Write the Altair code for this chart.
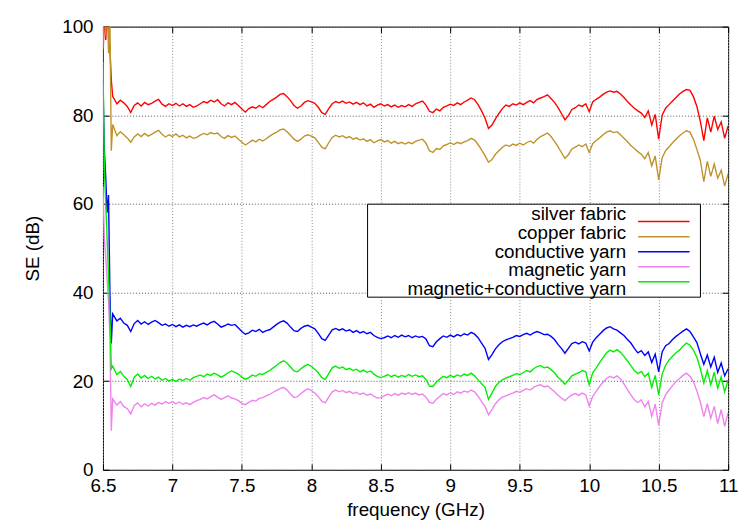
import numpy as np
import pandas as pd
import altair as alt

SERIES = ["silver fabric", "copper fabric", "conductive yarn", "magnetic yarn",
          "magnetic+conductive yarn"]
COLORS = ["#ff0000", "#c0922a", "#0000ff", "#ee82ee", "#00ee00"]

X_TICKS = [6.5, 7, 7.5, 8, 8.5, 9, 9.5, 10, 10.5, 11]
Y_TICKS = [0, 20, 40, 60, 80, 100]

# dense sampling of the start-up transient (GHz)
FREQ_START = [6.50, 6.51, 6.52, 6.53, 6.54, 6.55, 6.56, 6.57]
# regular sampling afterwards: 6.600 ... 11.000 every 0.025 GHz
FREQ_REG = list(np.round(6.6 + 0.025 * np.arange(177), 3))

silver = [92, 104, 97, 103, 99, 95, 88, 84.3,
    82.6, 83.4, 82.8, 82.0, 80.6, 82.2, 82.8, 82.1,
    82.9, 82.4, 82.7, 83.2, 83.6, 82.5, 82.0, 82.6,
    82.2, 82.7, 82.1, 82.6, 82.0, 82.4, 81.8, 82.1,
    82.6, 83.1, 82.8, 83.4, 83.0, 83.5, 82.6, 82.1,
    82.8, 82.4, 82.9, 82.2, 81.4, 80.7, 81.5, 81.9,
    81.6, 82.2, 81.7, 82.4, 83.1, 83.6, 84.1, 84.7,
    84.9, 84.2, 83.3, 82.2, 81.6, 82.1, 82.9, 83.3,
    83.0, 82.7, 81.8, 80.6, 80.2, 81.5, 82.6, 83.1,
    82.8, 83.2, 82.7, 83.0, 82.5, 82.9, 82.4, 82.8,
    82.1, 82.5, 81.8, 82.3, 82.6, 82.1, 82.4, 81.9,
    82.3, 81.8, 82.2, 81.9, 82.4, 82.0, 82.6, 82.9,
    83.2, 82.3, 80.9, 80.6, 81.4, 81.0, 81.8, 82.1,
    82.5, 82.2, 82.8, 82.4, 83.0, 83.4, 83.9, 83.5,
    82.4, 81.0, 79.4, 77.0, 77.8, 79.2, 80.4, 81.5,
    82.3, 82.0, 82.6, 82.3, 82.8, 82.4, 82.9, 83.3,
    82.8, 83.6, 83.9, 84.2, 84.6, 83.8, 82.9, 81.8,
    80.4, 79.0, 79.9, 81.3, 81.7, 82.3, 82.0, 82.6,
    80.8, 83.0, 83.6, 84.1, 84.7, 85.2, 85.5, 85.2,
    85.4, 84.8, 84.0, 83.1, 82.3, 81.6, 81.0, 80.5,
    79.5, 81.0, 77.8, 80.2, 74.6, 80.0, 81.6, 82.4,
    83.2, 84.0, 84.8, 85.4, 85.8, 85.6, 84.2, 82.0,
    78.6, 74.3, 79.4, 76.2, 79.8, 76.8, 78.5, 74.8,
    77.6]

copper = [95, 106, 98, 108, 94, 102, 72, 77.9,
    75.4, 76.3, 75.6, 74.9, 73.9, 75.1, 75.8, 75.2,
    75.9, 75.3, 75.7, 76.2, 76.6, 75.7, 75.1, 75.6,
    75.2, 75.8, 75.1, 75.5, 74.9, 75.3, 74.8, 75.0,
    75.5, 75.9, 75.6, 76.1, 75.8, 76.0, 75.2, 74.8,
    75.4, 75.0, 75.3, 74.6, 73.9, 73.3, 73.8, 74.4,
    74.0, 74.6, 74.2, 74.7, 75.3, 75.8, 76.2, 76.7,
    76.9, 76.3, 75.5, 74.6, 74.1, 74.6, 75.3, 75.6,
    75.3, 74.9, 73.9, 72.8, 72.4, 73.8, 75.0, 75.5,
    75.1, 75.4, 74.9, 75.2, 74.6, 74.9, 74.4, 74.7,
    74.1, 74.5, 73.8, 74.2, 74.5, 74.0, 74.3, 73.7,
    74.1, 73.6, 73.9, 73.5, 73.9, 73.6, 74.1, 74.4,
    74.6, 73.7, 72.0, 71.6, 72.5, 72.3, 73.1, 73.4,
    73.8, 73.4, 73.9, 73.6, 74.0, 74.3, 74.8, 74.4,
    73.4, 72.2, 70.9, 69.4, 70.0, 71.2, 72.0, 72.8,
    73.3, 73.0, 73.5, 73.2, 73.7, 73.3, 73.8, 74.2,
    73.7, 74.6, 75.2, 75.6, 76.0, 75.2, 74.1, 72.9,
    71.6, 70.3, 71.1, 72.4, 72.8, 73.3, 72.9, 73.5,
    71.6, 73.6, 74.3, 74.9, 75.6, 76.2, 76.5, 76.1,
    76.3, 75.6, 74.8, 74.0, 73.2, 72.5, 71.8, 71.2,
    70.2, 71.6, 68.6, 70.8, 65.4, 70.4, 72.0, 72.9,
    73.8, 74.6, 75.4, 76.0, 76.5, 76.2, 74.6, 72.3,
    69.8, 65.0, 69.6, 66.2, 69.0, 65.8, 67.6, 64.0,
    66.8]

cond_yarn = [88, 72, 66, 58, 62, 40, 28.5, 35.2,
    33.6, 34.2, 33.1, 32.6, 31.2, 33.0, 33.7, 32.9,
    33.4, 32.8, 33.3, 33.7, 33.2, 32.6, 32.9, 32.4,
    32.8, 32.3, 32.7, 32.2, 32.6, 32.3, 32.7, 32.4,
    32.8, 33.1, 32.7, 33.2, 33.5, 32.9, 32.2, 32.5,
    32.9, 32.6, 32.8, 32.0, 31.2, 30.6, 30.9, 31.5,
    31.2, 31.7, 31.0, 31.4, 31.6, 32.2, 32.8, 33.3,
    33.6, 33.1, 32.2, 31.4, 31.2, 31.9, 32.4, 32.6,
    32.2, 31.8, 30.8, 29.6, 29.2, 30.4, 31.6, 31.9,
    31.5, 31.8, 31.3, 31.6, 31.0, 31.4, 30.9, 31.2,
    30.7, 31.0, 30.3, 29.9, 29.6, 29.8, 30.2, 29.8,
    30.3, 29.9, 30.4, 30.0, 30.3, 29.8, 30.2, 29.9,
    30.1, 29.5, 28.0, 27.8, 28.9, 29.6, 30.2, 29.9,
    30.4, 30.0, 30.5, 30.2, 30.7, 30.4, 31.0, 30.6,
    29.8, 28.6, 27.4, 24.9, 26.0, 27.3, 28.2, 28.9,
    29.3, 29.6, 29.9, 30.3, 30.1, 30.5, 30.8, 30.4,
    30.9, 31.2, 30.9, 30.5, 30.6, 30.1, 29.4, 28.3,
    27.4, 26.3, 27.4, 28.5, 28.8, 28.4, 28.9, 28.6,
    26.8, 28.8, 29.8, 30.6, 31.4, 32.0, 32.3, 31.8,
    31.5, 30.9, 30.3, 29.4, 28.6, 27.4, 26.4, 26.9,
    25.8, 26.6, 24.2, 26.1, 22.1, 26.6, 28.0, 28.5,
    29.4, 30.1, 30.7, 31.3, 31.8, 31.2, 30.0, 28.7,
    26.2, 23.8, 25.9, 23.2, 25.4, 22.0, 24.1, 21.2,
    22.8]

mag_yarn = [64, 52, 48, 43, 38, 30, 8.8, 16.0,
    14.6, 15.4, 14.3, 13.8, 12.6, 14.5, 15.1, 14.2,
    14.9, 14.4, 15.0, 14.6, 15.2, 14.8, 15.4, 15.0,
    15.4, 14.9, 15.3, 14.8, 15.1, 14.7, 15.2, 15.6,
    15.9, 16.3, 16.0, 16.5, 16.9, 16.4, 15.9, 16.3,
    16.7, 16.2, 16.0, 15.6, 15.0, 14.7, 15.2, 15.7,
    15.5, 16.1, 16.3, 16.7, 17.0, 17.5, 17.9, 18.3,
    18.6, 18.0, 17.1, 16.3, 16.5, 17.2, 17.8, 18.3,
    17.9, 17.3, 16.5, 15.5, 15.1, 16.4, 17.6, 18.0,
    17.6, 17.9, 17.4, 17.7, 17.2, 17.5, 17.0, 17.3,
    16.8, 17.1, 16.6, 16.2, 16.3, 16.7, 17.1, 16.7,
    17.2, 16.8, 17.3, 17.0, 17.4, 17.0, 17.3, 16.9,
    17.1, 16.4, 15.2, 15.0, 15.9, 16.6, 17.2, 16.9,
    17.4, 17.0, 17.6, 17.3, 17.8, 17.5, 18.0, 17.6,
    16.6, 15.4, 14.3, 12.4, 13.6, 14.9, 15.8, 16.4,
    16.7, 17.0, 17.3, 17.7, 17.5, 17.9, 18.3, 18.0,
    18.6, 19.0, 19.2, 18.7, 18.9, 18.3, 17.6, 16.8,
    16.2, 15.6, 16.3, 16.9, 17.2, 16.8, 17.3, 16.9,
    14.4, 16.6, 17.7, 18.8, 19.8, 20.6, 21.1, 20.7,
    21.2, 20.5, 19.4, 18.1, 16.9, 15.8, 15.2, 15.8,
    14.2, 15.4, 12.1, 14.8, 10.0, 15.1, 16.9, 18.0,
    19.0, 19.9, 20.6, 21.3, 21.8, 21.1, 19.9, 17.8,
    15.3, 12.0, 14.9, 11.6, 14.3, 10.4, 13.6, 9.8,
    12.9]

mag_cond_yarn = [92, 68, 60, 52, 44, 35, 22.8, 23.4,
    21.5, 22.2, 21.1, 20.4, 18.8, 20.9, 21.6, 20.7,
    21.3, 20.6, 21.1, 20.5, 20.9, 20.2, 20.6, 20.0,
    20.4, 19.9, 20.5, 20.1, 20.6, 20.2, 20.8, 21.1,
    21.4, 21.0, 21.6, 21.3, 21.8, 21.4, 20.9, 21.3,
    21.9, 22.3, 22.0, 21.6, 20.9, 20.4, 20.8, 21.4,
    21.1, 21.7, 21.5, 22.0, 22.4, 23.0, 23.6, 24.2,
    24.6, 24.1, 23.2, 22.3, 22.1, 22.8, 23.4, 23.8,
    23.3, 22.7, 21.9, 20.8, 20.4, 21.7, 23.0, 23.4,
    22.9, 23.2, 22.6, 22.9, 22.4, 22.7, 22.1, 22.5,
    22.0, 22.3, 21.6, 21.1, 20.8, 21.1, 21.5, 21.0,
    21.4, 20.9, 21.3, 21.0, 21.5, 21.1, 21.4, 21.0,
    21.2, 20.4, 18.9, 18.8, 19.8, 20.5, 21.1, 20.8,
    21.3, 20.9, 21.4, 21.1, 21.6, 21.3, 21.8, 21.2,
    20.3, 19.4, 18.6, 15.9, 17.3, 18.8, 19.7, 20.3,
    20.7, 21.0, 21.3, 21.7, 21.5, 21.9, 22.4, 22.1,
    22.8, 23.3, 23.5, 23.0, 23.2, 22.6, 21.9, 20.9,
    20.2, 19.3, 20.2, 21.2, 21.6, 21.9, 22.4, 22.1,
    19.2, 21.9, 23.0, 24.2, 25.3, 26.4, 27.0, 26.6,
    27.1, 26.5, 25.6, 24.6, 23.5, 22.4, 21.7, 22.2,
    21.0, 21.8, 18.6, 21.3, 16.9, 21.6, 23.6, 24.8,
    25.6, 26.4, 27.0, 27.9, 28.6, 28.1, 27.0, 25.4,
    22.8, 19.6, 22.4, 19.2, 22.0, 18.4, 21.0, 17.6,
    20.3]

FREQ = FREQ_START + FREQ_REG
VALUES = [silver, copper, cond_yarn, mag_yarn, mag_cond_yarn]

frames = []
for name, vals in zip(SERIES, VALUES):
    frames.append(pd.DataFrame({"f": FREQ, "se": vals, "series": name}))
df = pd.concat(frames, ignore_index=True)

W, H = 632, 448
FONT = "Liberation Sans"

xs = alt.Scale(domain=[6.5, 11], nice=False, zero=False)
ys = alt.Scale(domain=[0, 100], nice=False, zero=False)

x_main = alt.Axis(values=X_TICKS, format="~g", title="frequency  (GHz)", grid=True,
                  gridColor="#8a8a8a", gridDash=[1, 2], gridWidth=1, ticks=False,
                  domain=False, labelPadding=7, titlePadding=5, labelFlush=False)
y_main = alt.Axis(values=Y_TICKS, format="d", title="SE (dB)", grid=True,
                  gridColor="#555555", gridDash=[1, 2], gridWidth=1, ticks=False,
                  domain=False, labelPadding=10, titlePadding=19, labelFlush=False)

layers = []
for i, (name, col) in enumerate(zip(SERIES, COLORS)):
    layers.append(
        alt.Chart(df).transform_filter(alt.datum.series == name)
        .mark_line(color=col, strokeWidth=1.4, clip=True)
        .encode(
            x=alt.X("f:Q", scale=xs, axis=x_main if i == 0 else None),
            y=alt.Y("se:Q", scale=ys, axis=y_main if i == 0 else None),
            order="f:Q",
        )
    )

# inward tick marks on all four borders (axes shifted onto the opposite edge)
dummy = pd.DataFrame({"f": [6.5, 11.0], "se": [0, 100]})
tick_style = dict(labels=False, domain=False, grid=False, ticks=True, tickSize=6,
                  tickColor="black", tickWidth=1, title="")
ticks_a = alt.Chart(dummy).mark_point(opacity=0).encode(
    x=alt.X("f:Q", scale=xs, axis=alt.Axis(orient="top", offset=-H, values=X_TICKS, **tick_style)),
    y=alt.Y("se:Q", scale=ys, axis=alt.Axis(orient="right", offset=-W, values=Y_TICKS, **tick_style)),
)
ticks_b = alt.Chart(dummy).mark_point(opacity=0).encode(
    x=alt.X("f:Q", scale=xs, axis=alt.Axis(orient="bottom", offset=-H, values=X_TICKS, **tick_style)),
    y=alt.Y("se:Q", scale=ys, axis=alt.Axis(orient="left", offset=-W, values=Y_TICKS, **tick_style)),
)

# legend box (gnuplot style: label right-aligned, line sample to the right)
leg_df = pd.DataFrame({"name": SERIES})
leg_y = alt.Y("name:N", scale=alt.Scale(domain=SERIES, range=[189.5, 265.5], padding=0), axis=None)
box = alt.Chart(pd.DataFrame({"a": [0]})).mark_rect(
    fill="white", stroke="black", strokeWidth=1).encode(
    x=alt.value(267.5), x2=alt.value(604), y=alt.value(179.5), y2=alt.value(273.5))
leg_text = alt.Chart(leg_df).mark_text(
    align="right", baseline="middle", font=FONT, fontSize=19, color="black").encode(
    x=alt.value(529), y=leg_y, text="name:N")
leg_line = alt.Chart(leg_df).mark_rule(strokeWidth=1.5).encode(
    x=alt.value(541), x2=alt.value(593), y=leg_y,
    color=alt.Color("name:N", scale=alt.Scale(domain=SERIES, range=COLORS), legend=None))

chart = alt.layer(*layers, ticks_a, ticks_b, box, leg_text, leg_line).resolve_scale(
    y="independent", color="independent"
).resolve_axis(x="independent", y="independent").properties(
    width=W, height=H, autosize="none",
    padding={"left": 96, "top": 16, "right": 13, "bottom": 56},
    background="white",
).configure_view(stroke="black", strokeWidth=1).configure_axis(
    labelFont=FONT, titleFont=FONT, labelFontSize=19, titleFontSize=19,
    labelColor="black", titleColor="black", titleFontWeight="normal",
)

chart.save("out.html", embed_options={"renderer": "svg", "actions": False})
